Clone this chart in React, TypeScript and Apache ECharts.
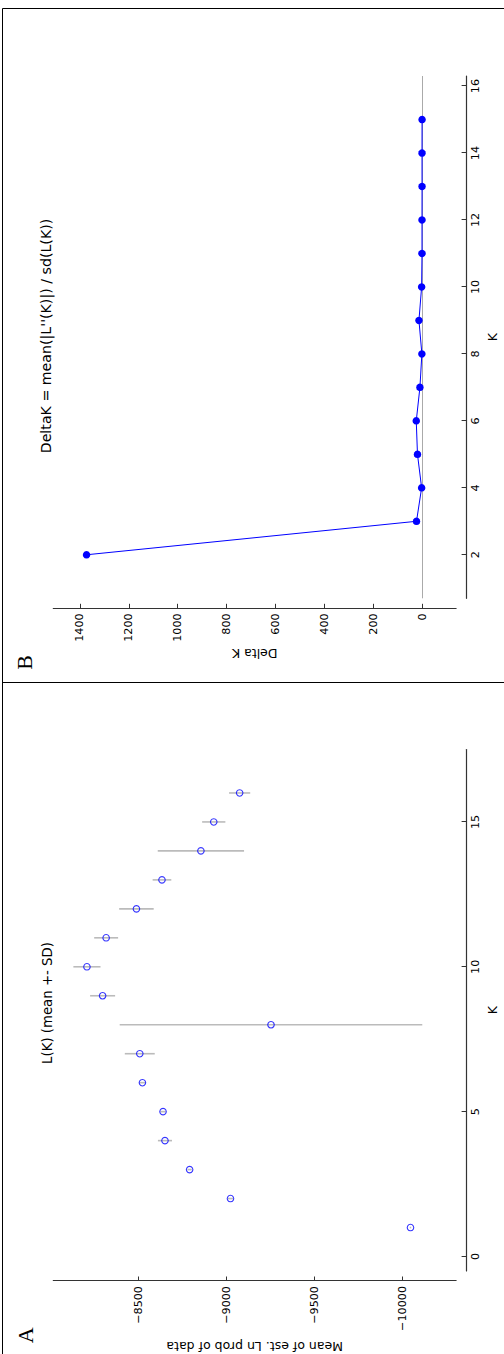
import React, { useEffect, useRef } from "react";
import * as echarts from "echarts";

// Panel A: L(K) mean +- SD
const kA = [1, 2, 3, 4, 5, 6, 7, 8, 9, 10, 11, 12, 13, 14, 15, 16];
const meanLnP = [-10047, -9025, -8793, -8653, -8642, -8525, -8510, -9255, -8299, -8210, -8319, -8491, -8636, -8857, -8930, -9077];
const sdLnP = [4, 14, 12, 40, 15, 18, 85, 859, 71, 77, 68, 98, 53, 245, 66, 60];

// Panel B: Delta K
const kB = [2, 3, 4, 5, 6, 7, 8, 9, 10, 11, 12, 13, 14, 15];
const deltaK = [1373, 23, 2, 19, 24, 9, 1, 13, 2, 0.5, 0.5, 0.3, 0.4, 0.2];

// Tick values
const ticksKA = [0, 5, 10, 15];
const ticksKB = [2, 4, 6, 8, 10, 12, 14, 16];
const ticksLnP = [-10000, -9500, -9000, -8500];
const ticksDK = [0, 200, 400, 600, 800, 1000, 1200, 1400];

const titleA = "L(K) (mean +- SD)";
const titleB = "DeltaK = mean(|L''(K)|) / sd(L(K))";

const W = 1354;
const H = 504;
const FONT = "DejaVu Sans";
const AXIS_COLOR = "#333";

const fmt = (v: number) => String(v).replace("-", "\u2212");

function axisBase(ticks: number[], extra: any) {
  return {
    type: "value",
    offset: 10,
    axisLine: { show: true, onZero: false, lineStyle: { color: AXIS_COLOR, width: 1.2 } },
    axisTick: { show: true, inside: true, length: 4.5, customValues: ticks, lineStyle: { color: AXIS_COLOR, width: 1 } },
    axisLabel: { customValues: ticks, formatter: fmt, color: "#000", fontFamily: FONT, fontSize: 11.2, margin: 5 },
    splitLine: { show: false },
    nameLocation: "middle",
    nameTextStyle: { color: "#000", fontFamily: FONT, fontSize: 12.5 },
    ...extra,
  };
}

export default function App() {
  const ref = useRef<HTMLDivElement>(null);

  useEffect(() => {
    document.documentElement.style.overflow = "hidden";
    document.body.style.overflow = "hidden";
    if (!ref.current) return;
    const chart = echarts.init(ref.current, null, { renderer: "svg" });

    const errData = kA.map((k, i) => [k, meanLnP[i] - sdLnP[i], meanLnP[i] + sdLnP[i]]);
    const meanData = kA.map((k, i) => [k, meanLnP[i]]);
    const dkData = kB.map((k, i) => [k, deltaK[i]]);

    const kLabel = (ticks: number[]) => ({ customValues: ticks, formatter: fmt, color: "#000", fontFamily: FONT, fontSize: 11.2, margin: 4 });

    const option: any = {
      animation: false,
      backgroundColor: "#fff",
      grid: [
        { left: 82.3, top: 53.3, width: 522.2, height: 404 },
        { left: 755.7, top: 53.3, width: 522.3, height: 404 },
      ],
      xAxis: [
        axisBase(ticksKA, { gridIndex: 0, position: "bottom", min: -0.5, max: 17.5, name: "K", nameGap: 19, axisLabel: kLabel(ticksKA) }),
        axisBase(ticksKB, { gridIndex: 1, position: "bottom", min: 0.7, max: 16.3, name: "K", nameGap: 19, axisLabel: kLabel(ticksKB) }),
      ],
      yAxis: [
        axisBase(ticksLnP, { gridIndex: 0, position: "left", min: -10306, max: -8019, name: "Mean of est. Ln prob of data", nameRotate: 90, nameGap: 59 }),
        axisBase(ticksDK, { gridIndex: 1, position: "left", min: -139, max: 1509, name: "Delta K", nameRotate: 90, nameGap: 39 }),
      ],
      series: [
        {
          type: "custom",
          xAxisIndex: 0,
          yAxisIndex: 0,
          data: errData,
          encode: { x: 0, y: [1, 2] },
          renderItem: (params: any, api: any) => {
            const k = api.value(0);
            const p1 = api.coord([k, api.value(1)]);
            const p2 = api.coord([k, api.value(2)]);
            return {
              type: "line",
              shape: { x1: p1[0], y1: p1[1], x2: p2[0], y2: p2[1] },
              style: { stroke: "#bbbbbb", lineWidth: 1.6 },
            };
          },
          z: 1,
        },
        {
          type: "scatter",
          xAxisIndex: 0,
          yAxisIndex: 0,
          data: meanData,
          symbol: "circle",
          symbolSize: 6.5,
          itemStyle: { color: "rgba(0,0,0,0)", borderColor: "#0000ff", borderWidth: 1.1 },
          z: 3,
        },
        {
          type: "line",
          xAxisIndex: 1,
          yAxisIndex: 1,
          data: dkData,
          symbol: "circle",
          symbolSize: 7.5,
          showSymbol: true,
          lineStyle: { color: "#0000ff", width: 1 },
          itemStyle: { color: "#0000ff" },
          markLine: {
            silent: true,
            symbol: "none",
            label: { show: false },
            lineStyle: { color: "#aaaaaa", width: 1, type: "solid" },
            data: [{ yAxis: 0 }],
            z: 1,
          },
          z: 3,
        },
      ],
      graphic: [
        { type: "line", shape: { x1: 0, y1: 2.5, x2: 1345.5, y2: 2.5 }, style: { stroke: "#000", lineWidth: 1 } },
        { type: "line", shape: { x1: 1345.5, y1: 2.5, x2: 1345.5, y2: H }, style: { stroke: "#000", lineWidth: 1 } },
        { type: "line", shape: { x1: 671.5, y1: 2.5, x2: 671.5, y2: H }, style: { stroke: "#000", lineWidth: 1 } },
        { type: "text", x: 351, y: 47, style: { text: titleA, fill: "#000", fontFamily: FONT, fontSize: 13.3, align: "center", verticalAlign: "middle" } },
        { type: "text", x: 1018, y: 46, style: { text: titleB, fill: "#000", fontFamily: FONT, fontSize: 14.2, align: "center", verticalAlign: "middle" } },
        { type: "text", x: 18.7, y: 25.5, style: { text: "A", fill: "#000", fontFamily: "Liberation Serif", fontSize: 22, align: "center", verticalAlign: "middle" } },
        { type: "text", x: 691.5, y: 24.5, style: { text: "B", fill: "#000", fontFamily: "Liberation Serif", fontSize: 22, align: "center", verticalAlign: "middle" } },
      ],
    };
    chart.setOption(option);
    return () => chart.dispose();
  }, []);

  return (
    <div
      ref={ref}
      style={{
        position: "absolute",
        left: 0,
        top: 0,
        width: W,
        height: H,
        transformOrigin: "0 0",
        transform: `translateY(${W}px) rotate(-90deg)`,
        background: "#fff",
      }}
    />
  );
}
